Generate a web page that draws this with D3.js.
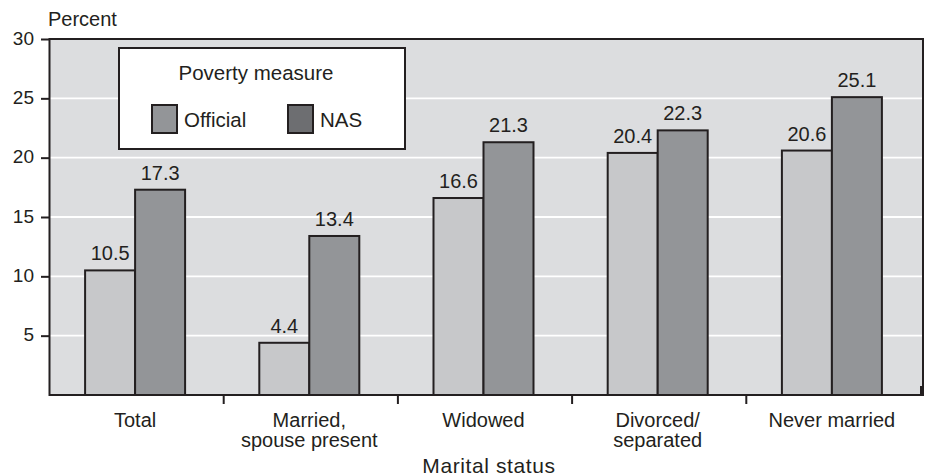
<!DOCTYPE html>
<html>
<head>
<meta charset="utf-8">
<script src="https://cdn.jsdelivr.net/npm/d3@7"></script>
<style>
  body { margin: 0; background: #fff; }
  svg { display: block; font-family: "Liberation Sans", Arial, sans-serif; }
</style>
</head>
<body>
<svg width="930" height="476"></svg>
<script>
const WIDTH = 930
const HEIGHT = 476

const categories = ["Total", "Married,|spouse present", "Widowed", "Divorced/|separated", "Never married"]
const seriesNames = ["Official", "NAS"]
const official = [10.5, 4.4, 16.6, 20.4, 20.6]
const nas = [17.3, 13.4, 21.3, 22.3, 25.1]
const yTicks = [5, 10, 15, 20, 25, 30]

const INK = "#231f20"
const barColors = {"Official": "#c7c8ca", "NAS": "#939598"}
const keyColors = {"Official": "#939598", "NAS": "#6d6e71"}

const plot = {left: 49.5, right: 923, top: 39, bottom: 395}

const svg = d3.select("svg")

const x = d3.scaleBand()
    .domain(categories)
    .range([48, 919])

const x1 = d3.scaleBand()
    .domain(seriesNames)
    .range([0, 100])

const y = d3.scaleLinear()
    .domain([0, 30])
    .range([plot.bottom, plot.top])

// plot background
svg.append("rect")
    .attr("x", plot.left)
    .attr("y", plot.top)
    .attr("width", plot.right - plot.left)
    .attr("height", plot.bottom - plot.top)
    .attr("fill", "#dcdddf")

// white gridlines
svg.append("g")
    .selectAll("line")
    .data(yTicks.slice(0, -1))
    .enter().append("line")
    .attr("x1", plot.left)
    .attr("x2", plot.right)
    .attr("y1", d => y(d))
    .attr("y2", d => y(d))
    .attr("stroke", "#fff")
    .attr("stroke-width", 1.8)

// bars
const rows = categories.map((c, i) => ({cat: c, values: [
    {name: "Official", value: official[i]},
    {name: "NAS", value: nas[i]}
]}))

const group = svg.append("g")
    .selectAll("g")
    .data(rows)
    .enter().append("g")
    .attr("transform", d => `translate(${x(d.cat) + x.bandwidth() / 2 - 50},0)`)

group.selectAll("rect")
    .data(d => d.values)
    .enter().append("rect")
    .attr("x", d => x1(d.name))
    .attr("y", d => y(d.value))
    .attr("width", x1.bandwidth())
    .attr("height", d => y(0) - y(d.value))
    .attr("fill", d => barColors[d.name])
    .attr("stroke", INK)
    .attr("stroke-width", 2)

group.selectAll("text")
    .data(d => d.values)
    .enter().append("text")
    .attr("x", d => x1(d.name) + x1.bandwidth() / 2)
    .attr("y", d => y(d.value) - 10)
    .attr("text-anchor", "middle")
    .attr("font-size", 20)
    .attr("fill", INK)
    .text(d => d.value.toFixed(1))

// plot frame
svg.append("rect")
    .attr("x", plot.left)
    .attr("y", plot.top)
    .attr("width", plot.right - plot.left)
    .attr("height", plot.bottom - plot.top)
    .attr("fill", "none")
    .attr("stroke", INK)
    .attr("stroke-width", 2)

// small mark at bottom right corner
svg.append("line")
    .attr("x1", plot.right - 2)
    .attr("x2", plot.right - 2)
    .attr("y1", plot.bottom - 9)
    .attr("y2", plot.bottom)
    .attr("stroke", INK)
    .attr("stroke-width", 2)

// y axis
const yAxis = svg.append("g")
    .attr("transform", `translate(${plot.left},0)`)
    .call(d3.axisLeft(y).tickValues(yTicks).tickSize(8.5).tickPadding(7))
yAxis.select(".domain").remove()
yAxis.selectAll(".tick line").attr("stroke", INK).attr("stroke-width", 2)
yAxis.selectAll(".tick text")
    .attr("font-size", 19)
    .attr("font-family", "Liberation Sans, Arial, sans-serif")
    .attr("fill", INK)
    .attr("dy", "0.28em")

svg.append("text")
    .attr("x", 48)
    .attr("y", 26)
    .attr("font-size", 20)
    .attr("fill", INK)
    .text("Percent")

// x axis ticks between categories
svg.append("g")
    .selectAll("line")
    .data(categories.slice(1))
    .enter().append("line")
    .attr("x1", d => x(d) + 1.5)
    .attr("x2", d => x(d) + 1.5)
    .attr("y1", plot.bottom)
    .attr("y2", plot.bottom + 9)
    .attr("stroke", INK)
    .attr("stroke-width", 2)

const catLabel = svg.append("g")
    .selectAll("text")
    .data(categories)
    .enter().append("text")
    .attr("x", d => x(d) + x.bandwidth() / 2)
    .attr("y", 427)
    .attr("text-anchor", "middle")
    .attr("font-size", 20)
    .attr("fill", INK)

catLabel.selectAll("tspan")
    .data(d => d.split("|"))
    .enter().append("tspan")
    .attr("x", function() { return d3.select(this.parentNode).attr("x") })
    .attr("dy", (d, i) => i === 0 ? 0 : 20)
    .text(d => d)

svg.append("text")
    .attr("x", 489)
    .attr("y", 473)
    .attr("text-anchor", "middle")
    .attr("font-size", 21)
    .attr("letter-spacing", 0.6)
    .attr("fill", INK)
    .text("Marital status")

// legend
const legend = svg.append("g")
legend.append("rect")
    .attr("x", 119)
    .attr("y", 48)
    .attr("width", 286)
    .attr("height", 101)
    .attr("fill", "#fff")
    .attr("stroke", INK)
    .attr("stroke-width", 2)

legend.append("text")
    .attr("x", 256)
    .attr("y", 80)
    .attr("text-anchor", "middle")
    .attr("font-size", 20.5)
    .attr("fill", INK)
    .text("Poverty measure")

const keyX = d3.scaleOrdinal().domain(seriesNames).range([152, 288])

const key = legend.selectAll(".key")
    .data(seriesNames)
    .enter().append("g")
    .attr("class", "key")
    .attr("transform", d => `translate(${keyX(d)},105)`)

key.append("rect")
    .attr("width", 25)
    .attr("height", 28)
    .attr("fill", d => keyColors[d])
    .attr("stroke", INK)
    .attr("stroke-width", 2)

key.append("text")
    .attr("x", 32)
    .attr("y", 22)
    .attr("font-size", 20.5)
    .attr("fill", INK)
    .text(d => d)
</script>
</body>
</html>
